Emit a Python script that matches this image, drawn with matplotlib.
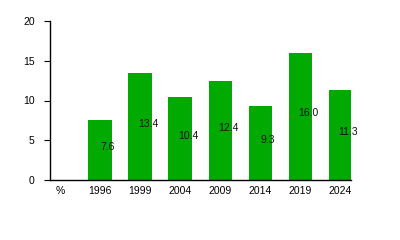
import matplotlib
matplotlib.use("Agg")
import matplotlib.pyplot as plt

plt.rcParams["font.family"] = ["Liberation Sans", "DejaVu Sans"]

categories = ["%", "1996", "1999", "2004", "2009", "2014", "2019", "2024"]
values = [None, 7.6, 13.4, 10.4, 12.4, 9.3, 16.0, 11.3]
labels = ["", "7.6", "13.4", "10.4", "12.4", "9.3", "16.0", "11.3"]

fig = plt.figure(figsize=(4.0, 2.4), dpi=100)
ax = fig.add_axes([0.125, 0.25, 0.7525, 0.6625])

xs = list(range(len(categories)))
for x, v, lab in zip(xs, values, labels):
    if v is None:
        continue
    ax.bar(x, v, width=0.58, color="#00aa00", zorder=2)
    ax.text(x + 0.2, v / 2, lab, ha="center", va="baseline", fontsize=7.5, color="#111111")

ax.set_xlim(-0.25, 7.27)
ax.set_ylim(0, 20)
ax.set_yticks([0, 5, 10, 15, 20])
ax.set_xticks(xs)
ax.set_xticklabels(categories)
ax.tick_params(axis="x", length=0, pad=4, labelsize=7.5)
ax.tick_params(axis="y", length=4, width=0.8, pad=7, labelsize=7.5)
for side in ("top", "right"):
    ax.spines[side].set_visible(False)
for side in ("left", "bottom"):
    ax.spines[side].set_linewidth(1.0)
    ax.spines[side].set_color("black")

fig.savefig("out.png", dpi=100)
